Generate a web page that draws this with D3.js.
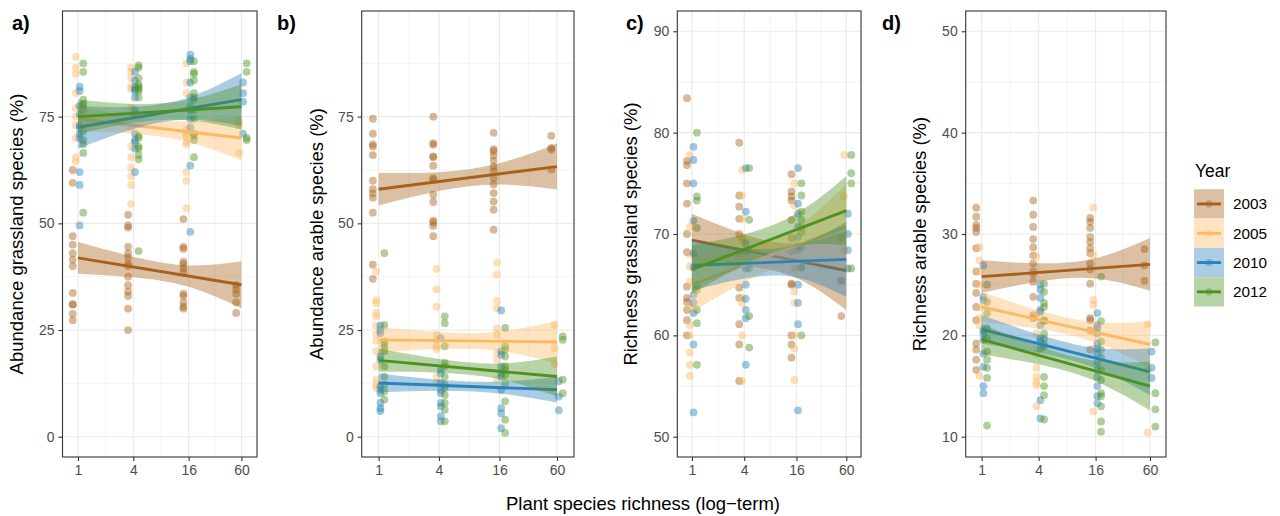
<!DOCTYPE html>
<html>
<head>
<meta charset="utf-8">
<script src="https://cdn.jsdelivr.net/npm/d3@7"></script>
<style>
  body { margin: 0; background: #fff; }
  text { font-family: "Liberation Sans", Arial, sans-serif; }
</style>
</head>
<body>
<div id="chart"></div>
<script>
//////////////////////////////////////////////////////////////////////////////
// Data

const years = ["2003", "2005", "2010", "2012"];
const levels = [1, 4, 16, 60];   // sown plant species richness

// points: [year][level] -> values (%)
const abGrassPts = [
  [[62.5, 59.5, 47, 45, 43, 41.5, 40, 33.7, 31, 31, 28.8, 27.3],
   [52, 49.5, 49, 44.5, 43, 42, 40.5, 40, 37.5, 35.5, 34, 33, 30, 25],
   [51, 44.5, 44, 41, 40.5, 39.5, 38.5, 33.5, 33, 31.5, 30.5, 30],
   [35.5, 34.5, 33.5, 31.5, 29]],
  [[89, 86.5, 85, 80.5, 77, 75, 73, 70, 65.5, 64.5],
   [86.5, 85.5, 84, 82, 81.5, 77, 75, 72.5, 68, 65.5, 63, 61, 59, 54.5],
   [87.5, 83, 80.5, 72, 71, 70.5, 69, 68.5, 62, 60, 53.5],
   [74, 73, 66.5]],
  [[82, 81, 77.5, 75.5, 73, 72.5, 71, 70, 62, 59, 49.5],
   [85.5, 83.5, 82, 81.5, 81, 79.5, 76.5, 75.5, 71, 69.5, 69, 67.5, 62],
   [89.5, 88.5, 88, 83, 79.5, 77.5, 76.5, 74.5, 72.5, 63.5, 48],
   [83, 80.5, 78.5, 71]],
  [[87.5, 85.5, 79, 78, 77.5, 76.5, 71.5, 69.5, 68.5, 66.5, 52.5],
   [87, 86.5, 84, 82.5, 82, 81.5, 81, 79.5, 70.5, 70, 68, 67.5, 66, 65, 43.5],
   [88, 85.5, 85, 83.5, 80.5, 79.5, 79, 76.5, 74.5, 71, 70.5, 69.5, 65.5],
   [87.5, 85.5, 70, 69.5]]
];
const abArablePts = [
  [[74.5, 71, 68.5, 68, 66, 60, 58, 57, 56, 52.5, 40.3, 37],
   [75, 68.8, 68.4, 65.7, 65.5, 63.5, 60.6, 60.2, 56.7, 55, 50.6, 50.2, 49.4, 47],
   [71.2, 67.4, 66.9, 65.9, 64.7, 63.3, 62.2, 60.6, 59.1, 57.1, 55.1, 53.2, 48.5],
   [70.5, 67.7, 67.3, 62.6]],
  [[38.7, 32, 31.3, 29, 28.2, 26, 24, 22.5, 20, 16.5, 13.4, 12.2, 11.4],
   [39.3, 34.5, 30.5, 24, 22.7, 21.2, 20.5, 14, 12.6],
   [40.8, 38, 31.8, 30.1, 25.4, 23.9, 19.6, 18, 13.4],
   [26.2, 20.7, 17]],
  [[26, 25, 24.3, 18.8, 18, 11.8, 11, 10.2, 7.9, 6.7, 6],
   [23.1, 15.7, 14.9, 12.6, 11, 10.2, 7.9, 7.1, 4.8, 3.6],
   [29.6, 20, 19.2, 16.5, 14.9, 14.1, 11, 6.7, 5.5, 2],
   [13, 9.4, 6.2]],
  [[43, 26.2, 22.3, 21.6, 20.8, 20, 16.5, 14.1, 12.2, 10.6, 8.7],
   [28.2, 26.6, 21.2, 17.3, 16.5, 14.1, 12.2, 11.4, 9.8, 7.9, 6.3, 3.6],
   [25.5, 21.2, 20.4, 18.8, 16.5, 15.7, 14.5, 12.6, 8.3, 4, 0.9],
   [23.5, 22.7, 13.4, 10.2]]
];
const richGrassPts = [
  [[83.4, 77.2, 76.8, 75, 73, 70, 68.2, 64.8, 63.7, 63.3, 62.5, 61.5, 60],
   [79, 73.8, 72.7, 71.5, 70, 68.1, 64.7, 63.7, 61.1, 59.1, 55.5],
   [75.9, 74.2, 73.7, 73.3, 71.4, 69.6, 68.3, 65.1, 65, 60, 59.1, 57.8],
   [69.6, 65.4, 61.9]],
  [[77.8, 70.7, 68, 66.8, 65.3, 62.8, 61, 60, 58.3, 57.1, 56],
   [76.3, 73.8, 71.5, 69.7, 69.4, 63.7, 63.2, 60, 55.5],
   [75, 72.8, 66.6, 64.3, 63.2, 60, 58.7, 55.6],
   [77.8, 73.7, 68.4]],
  [[78.6, 77.3, 75, 71.3, 68.1, 66.7, 64, 63.2, 62.2, 59.1, 52.4],
   [76.5, 72.2, 69.1, 68.3, 66.6, 65, 63.6, 62.5, 61.7, 57.1],
   [76.5, 73, 72, 70.7, 69.7, 68.8, 68.4, 65, 63.2, 61.1, 52.6],
   [72, 70, 68.4, 66.6]],
  [[80, 73.7, 73.3, 70.6, 65, 64.5, 62.5, 61.2, 57.1],
   [76.5, 71.4, 68.4, 66.6, 61.9, 58.8],
   [75, 73.8, 72.2, 71.4, 70.7, 70.2, 68.7, 66.7, 60],
   [77.8, 76, 75, 66.6]]
];
const richArablePts = [
  [[32.6, 31.7, 30.9, 30.6, 30.2, 28.6, 26.3, 25.1, 24.2, 22.8, 21.5, 19.2, 18.6, 17.6, 16.6],
   [33.3, 31.9, 30.7, 29.5, 28.7, 27.9, 27.1, 26.3, 26, 25.3, 23.8, 22, 21.7],
   [31.6, 31.2, 30.6, 29.7, 29.2, 28.6, 28.1, 27.1, 26.5, 25.1, 21.7, 21.5, 20.5, 18.6],
   [28.5, 26.9, 25.4]],
  [[28.7, 27.4, 26.3, 25, 22.8, 21.7, 21, 16],
   [27.8, 22, 20.2, 18.2, 16.8, 15.9, 15.4, 15.1, 13],
   [32.6, 27.9, 23.5, 23, 20.4, 18.7, 12.5],
   [21.1, 16.6, 10.4]],
  [[26.9, 23.8, 23.5, 20.5, 20.2, 19.6, 18.2, 16.9, 15, 14.3],
   [25, 24.5, 23.7, 22.5, 22.3, 21, 19.7, 19.4, 18.7, 13.6, 11.8],
   [22.2, 21, 20.7, 20.2, 19.2, 18.7, 18.2, 17.3, 16.6, 15.9, 15, 14, 13.3],
   [18.4, 16.8, 15.8]],
  [[25, 23.3, 22.2, 20.7, 19.7, 18.4, 17.6, 16.8, 15.8, 11.1],
   [25.1, 24.3, 23.2, 22.8, 21.5, 21.4, 20.2, 19.7, 19.1, 18.9, 15.9, 15, 14.1, 11.7],
   [25.8, 21.4, 19.4, 18.6, 17.8, 16.6, 15.6, 14.3, 14, 13, 11.5, 10.5],
   [19.3, 14.3, 12.7, 11]]
];

// fitted lines: [year] -> [value at 1, value at 60]
const abGrassFit = [[41.9, 35.6], [74.5, 70], [72.5, 79], [75, 77.3]];
const abArableFit = [[58, 63.3], [22.7, 22.2], [12.6, 11], [17.9, 14.1]];
const richGrassFit = [[69.4, 66.4], [65, 70.7], [66.9, 67.5], [66.5, 72.3]];
const richArableFit = [[25.8, 27], [22.8, 19.1], [20.6, 16.4], [19.6, 15]];

// confidence band half widths: [year] -> at levels 1, 4, 16, 60
const abGrassCI = [[3.7, 2.4, 2.5, 5.5], [3, 2, 2.4, 5.3], [5, 2.6, 2.6, 6.2], [4, 2.2, 2.4, 5.3]];
const abArableCI = [[3.8, 2.2, 2.5, 5.4], [3, 2, 2.3, 5], [2.2, 1.3, 1.4, 3], [2.7, 1.6, 1.8, 4.7]];
const richGrassCI = [[2.6, 1.6, 1.7, 3.9], [2.7, 1.7, 1.8, 4.2], [2.5, 1.5, 1.6, 3.7], [2.4, 1.5, 1.6, 3.4]];
const richArableCI = [[1.6, 0.9, 1, 2.6], [1.5, 0.9, 1, 2.3], [1.4, 0.9, 1, 2.3], [1.5, 0.9, 1, 2.4]];

const abTicks = [0, 25, 50, 75];
const richGrassTicks = [50, 60, 70, 80, 90];
const richArableTicks = [10, 20, 30, 40, 50];


//////////////////////////////////////////////////////////////////////////////
// Layout

const width = 1280;
const height = 516;
const plotTop = 11, plotBottom = 457;

const color = d3.scaleOrdinal()
    .domain(years)
    .range(["#a6611a", "#fdb863", "#2b83ba", "#4d9221"]);
const dodge = [-0.19, -0.08, 0.06, 0.19];   // log2 units, like position_dodge

const panels = [
  { label: "a)", lx: 12, title: "Abundance grassland species (%)", tx: 23,
    left: 62.5, right: 257, dom: [-4.75, 99.75], ticks: abTicks,
    pts: abGrassPts, fit: abGrassFit, ci: abGrassCI },
  { label: "b)", lx: 277, title: "Abundance arable species (%)", tx: 323,
    left: 361.7, right: 574, dom: [-4.75, 99.75], ticks: abTicks,
    pts: abArablePts, fit: abArableFit, ci: abArableCI },
  { label: "c)", lx: 626, title: "Richness grassland species (%)", tx: 637,
    left: 677.3, right: 861, dom: [48, 92], ticks: richGrassTicks,
    pts: richGrassPts, fit: richGrassFit, ci: richGrassCI },
  { label: "d)", lx: 882, title: "Richness arable species (%)", tx: 926,
    left: 965.7, right: 1166, dom: [8, 52], ticks: richArableTicks,
    pts: richArablePts, fit: richArableFit, ci: richArableCI }
];

const svg = d3.select("#chart").append("svg")
    .attr("width", width)
    .attr("height", height);

svg.append("rect").attr("width", width).attr("height", height).attr("fill", "#fff");

panels.forEach(p => drawPanel(p));

function drawPanel(p) {
  const x = d3.scaleLog().base(2)
      .domain([Math.pow(2, -0.56), Math.pow(2, 6.47)])
      .range([p.left, p.right]);
  const y = d3.scaleLinear().domain(p.dom).range([plotBottom, plotTop]);
  const step = p.ticks[1] - p.ticks[0];
  const yMinor = [p.ticks[0] - step / 2].concat(p.ticks.map(t => t + step / 2))
      .filter(v => v > p.dom[0] && v < p.dom[1]);
  const xMinor = [2, 8, Math.pow(2, (4 + Math.log2(60)) / 2)];

  const g = svg.append("g");
  const clipId = "clip" + p.label[0];
  g.append("clipPath").attr("id", clipId).append("rect")
      .attr("x", p.left).attr("y", plotTop)
      .attr("width", p.right - p.left).attr("height", plotBottom - plotTop);

  // grid
  const grid = g.append("g").attr("stroke", "#ebebeb");
  grid.selectAll(".ym").data(yMinor).join("line")
      .attr("x1", p.left).attr("x2", p.right)
      .attr("y1", d => y(d)).attr("y2", d => y(d)).attr("stroke-width", 0.6);
  grid.selectAll(".xm").data(xMinor).join("line")
      .attr("y1", plotTop).attr("y2", plotBottom)
      .attr("x1", d => x(d)).attr("x2", d => x(d)).attr("stroke-width", 0.6);
  grid.selectAll(".yM").data(p.ticks).join("line")
      .attr("x1", p.left).attr("x2", p.right)
      .attr("y1", d => y(d)).attr("y2", d => y(d)).attr("stroke-width", 1.2);
  grid.selectAll(".xM").data(levels).join("line")
      .attr("y1", plotTop).attr("y2", plotBottom)
      .attr("x1", d => x(d)).attr("x2", d => x(d)).attr("stroke-width", 1.2);

  const plot = g.append("g").attr("clip-path", `url(#${clipId})`);

  // points
  years.forEach((yr, k) => {
    const pts = [];
    p.pts[k].forEach((vals, li) => vals.forEach(v => pts.push([levels[li], v])));
    plot.append("g").selectAll("circle").data(pts).join("circle")
        .attr("cx", d => x(Math.pow(2, Math.log2(d[0]) + dodge[k])))
        .attr("cy", d => y(d[1]))
        .attr("r", 3.9)
        .attr("fill", color(yr))
        .attr("fill-opacity", 0.45);
  });

  // smooth: ribbon then line, per year
  years.forEach((yr, k) => {
    const [f1, f60] = p.fit[k];
    const fit = v => f1 + (f60 - f1) * Math.log2(v) / Math.log2(60);
    const band = levels.map((v, i) => ({ v: v, lo: fit(v) - p.ci[k][i], hi: fit(v) + p.ci[k][i] }));
    plot.append("path").datum(band)
        .attr("fill", color(yr))
        .attr("fill-opacity", 0.4)
        .attr("d", d3.area().curve(d3.curveNatural)
          .x(d => x(d.v)).y0(d => y(d.lo)).y1(d => y(d.hi)));
    plot.append("line")
        .attr("x1", x(1)).attr("x2", x(60))
        .attr("y1", y(fit(1))).attr("y2", y(fit(60)))
        .attr("stroke", color(yr))
        .attr("stroke-width", 2.9);
  });

  // border
  g.append("rect")
      .attr("x", p.left).attr("y", plotTop)
      .attr("width", p.right - p.left).attr("height", plotBottom - plotTop)
      .attr("fill", "none").attr("stroke", "#333").attr("stroke-width", 1.1);

  // axes
  const ax = g.append("g").attr("transform", `translate(0,${plotBottom})`)
      .call(d3.axisBottom(x).tickValues(levels).tickFormat(d3.format("d")).tickSize(4).tickPadding(4));
  const ay = g.append("g").attr("transform", `translate(${p.left},0)`)
      .call(d3.axisLeft(y).tickValues(p.ticks).tickSize(4).tickPadding(4));
  [ax, ay].forEach(a => {
    a.select(".domain").remove();
    a.selectAll(".tick line").attr("stroke", "#333").attr("stroke-width", 1.1);
    a.selectAll(".tick text")
        .attr("fill", "#4d4d4d")
        .style("font-size", "14px")
        .style("font-family", "'Liberation Sans', Arial, sans-serif");
  });

  // y title
  g.append("text")
      .attr("transform", `translate(${p.tx},${(plotTop + plotBottom) / 2}) rotate(-90)`)
      .attr("text-anchor", "middle")
      .style("font-size", "18.5px")
      .text(p.title);

  // panel label
  g.append("text")
      .attr("x", p.lx).attr("y", 30)
      .style("font-size", "20px")
      .style("font-weight", "bold")
      .text(p.label);
}

// x title
svg.append("text")
    .attr("x", 643).attr("y", 510)
    .attr("text-anchor", "middle")
    .style("font-size", "18.5px")
    .text("Plant species richness (log\u2212term)");

// legend
const leg = svg.append("g").attr("transform", "translate(1194,0)");
leg.append("text").attr("x", 1).attr("y", 177)
    .style("font-size", "17.5px").text("Year");
const keyH = 29.3;
const key = leg.selectAll(".key").data(years).join("g")
    .attr("transform", (d, i) => `translate(0,${189.3 + i * keyH})`);
key.append("rect").attr("width", 30).attr("height", keyH)
    .attr("fill", "#fff");
key.append("rect").attr("width", 30).attr("height", keyH)
    .attr("fill", d => color(d)).attr("fill-opacity", 0.4);
key.append("circle").attr("cx", 15).attr("cy", keyH / 2).attr("r", 3.6)
    .attr("fill", d => color(d)).attr("fill-opacity", 0.4);
key.append("line").attr("x1", 3).attr("x2", 27)
    .attr("y1", keyH / 2).attr("y2", keyH / 2)
    .attr("stroke", d => color(d)).attr("stroke-width", 2.9);
key.append("text").attr("x", 39).attr("y", keyH / 2 + 5.3)
    .style("font-size", "15.3px").text(d => d);
</script>
</body>
</html>
